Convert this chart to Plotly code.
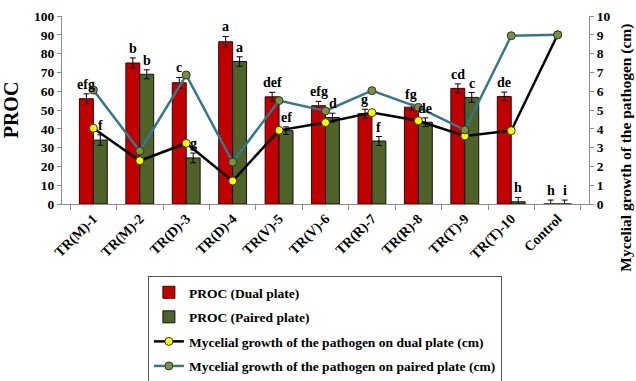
import plotly.graph_objects as go

# Treatments
categories = ["TR(M)-1", "TR(M)-2", "TR(D)-3", "TR(D)-4", "TR(V)-5", "TR(V)-6",
              "TR(R)-7", "TR(R)-8", "TR(T)-9", "TR(T)-10", "Control"]

# Percent reduction over control (PROC)
proc_dual = [56, 75, 64.5, 86.3, 57, 52.3, 48, 51.5, 61.5, 57.2, 0]
proc_dual_err = [2.6, 2.7, 2.8, 2.8, 2.4, 2.3, 2.4, 1.6, 2.4, 2.3, 2.1]
proc_paired = [34, 69, 24.5, 75.8, 39, 46, 33.5, 43.5, 56.7, 1.2, 0]
proc_paired_err = [2.8, 2.4, 2.6, 2.5, 2.0, 2.3, 2.4, 2.3, 2.6, 2.3, 2.1]

# Significance letters
letters_dual = ["efg", "b", "c", "a", "def", "efg", "g", "fg", "cd", "de", "h"]
letters_paired = ["f", "b", "g", "a", "ef", "d", "f", "de", "c", "h", "i"]

# Mycelial growth of the pathogen (cm)
growth_dual = [4.03, 2.3, 3.23, 1.22, 3.92, 4.33, 4.86, 4.43, 3.62, 3.9, 9.0]
growth_paired = [6.06, 2.82, 6.86, 2.23, 5.5, 4.95, 6.03, 5.14, 3.94, 8.95, 9.0]

FONT = "'Liberation Serif', 'Times New Roman', serif"
RED = "#C00000"
GREEN = "#4F6228"
TEAL = "#31788A"
AXIS_GREY = "#8C8C8C"

fig = go.Figure()

fig.add_trace(go.Bar(
    x=categories, y=proc_dual, name="PROC (Dual plate)",
    marker=dict(color=RED, line=dict(color="#3A0000", width=1)),
    error_y=dict(type="data", array=proc_dual_err, color="black", thickness=1, width=3),
    legendgroup="g1",
))
fig.add_trace(go.Bar(
    x=categories, y=proc_paired, name="PROC (Paired plate)",
    marker=dict(color=GREEN, line=dict(color="#111111", width=1)),
    error_y=dict(type="data", array=proc_paired_err, color="black", thickness=1, width=3),
    legendgroup="g2",
))
fig.add_trace(go.Scatter(
    x=categories, y=growth_dual, yaxis="y2", mode="lines+markers",
    name="Mycelial growth of the pathogen on dual plate (cm)",
    line=dict(color="black", width=2.5),
    marker=dict(color="#FFFF00", size=8, line=dict(color="#333333", width=1)),
    legendgroup="g3",
))
fig.add_trace(go.Scatter(
    x=categories, y=growth_paired, yaxis="y2", mode="lines+markers",
    name="Mycelial growth of the pathogen on paired plate (cm)",
    line=dict(color=TEAL, width=2.5),
    marker=dict(color="#77933C", size=8, line=dict(color="#333333", width=1)),
    legendgroup="g4",
))

# Significance letters above each bar
for cat, v, e, t in zip(categories, proc_dual, proc_dual_err, letters_dual):
    fig.add_annotation(x=cat, y=v + e, text=t, showarrow=False, xshift=-7,
                       yanchor="bottom", yshift=0,
                       font=dict(family=FONT, size=14, color="black", weight="bold"))
for cat, v, e, t in zip(categories, proc_paired, proc_paired_err, letters_paired):
    fig.add_annotation(x=cat, y=v + e, text=t, showarrow=False, xshift=7,
                       yanchor="bottom", yshift=0,
                       font=dict(family=FONT, size=14, color="black", weight="bold"))

# Secondary axis title
fig.add_annotation(
    text="Mycelial growth of the pathogen (cm)", textangle=-90,
    xref="paper", yref="paper", x=1.0875, y=0.3, xanchor="right", yanchor="middle",
    showarrow=False, borderpad=0,
    font=dict(family=FONT, size=15.5, color="black", weight="bold"),
)

tick_font = dict(family=FONT, size=13.5, color="black", weight="bold")

fig.update_layout(
    width=636, height=381,
    margin=dict(l=62, r=47, t=16, b=177, autoexpand=False),
    paper_bgcolor="white", plot_bgcolor="white",
    barmode="group", bargap=0.4, bargroupgap=0,
    font=dict(family=FONT, color="black"),
    xaxis=dict(
        type="category", tickangle=-45, tickfont=dict(tick_font, size=14),
        showline=True, linecolor=AXIS_GREY, linewidth=1,
        ticks="outside", tickson="boundaries", ticklen=5, tickcolor=AXIS_GREY,
        showgrid=False, automargin=False,
    ),
    yaxis=dict(
        range=[0, 100], dtick=10, tickfont=tick_font,
        showline=True, linecolor=AXIS_GREY, linewidth=1,
        ticks="outside", ticklen=4, tickcolor=AXIS_GREY,
        showgrid=False, zeroline=False, automargin=False,
        title=dict(text="PROC", font=dict(family=FONT, size=20, color="black", weight="bold"),
                   standoff=10),
    ),
    yaxis2=dict(
        range=[0, 10], dtick=1, overlaying="y", side="right", tickfont=tick_font,
        showline=True, linecolor=AXIS_GREY, linewidth=1,
        ticks="outside", ticklen=4, tickcolor=AXIS_GREY,
        showgrid=False, zeroline=False, automargin=False,
    ),
    legend=dict(
        x=0.163, y=-0.383, xanchor="left", yanchor="top",
        orientation="v", traceorder="grouped", tracegroupgap=4,
        bordercolor="#555555", borderwidth=1, bgcolor="white",
        font=dict(family=FONT, size=13.5, color="black", weight="bold"),
        itemwidth=30,
    ),
    showlegend=True,
)

fig.write_html("out.html")
